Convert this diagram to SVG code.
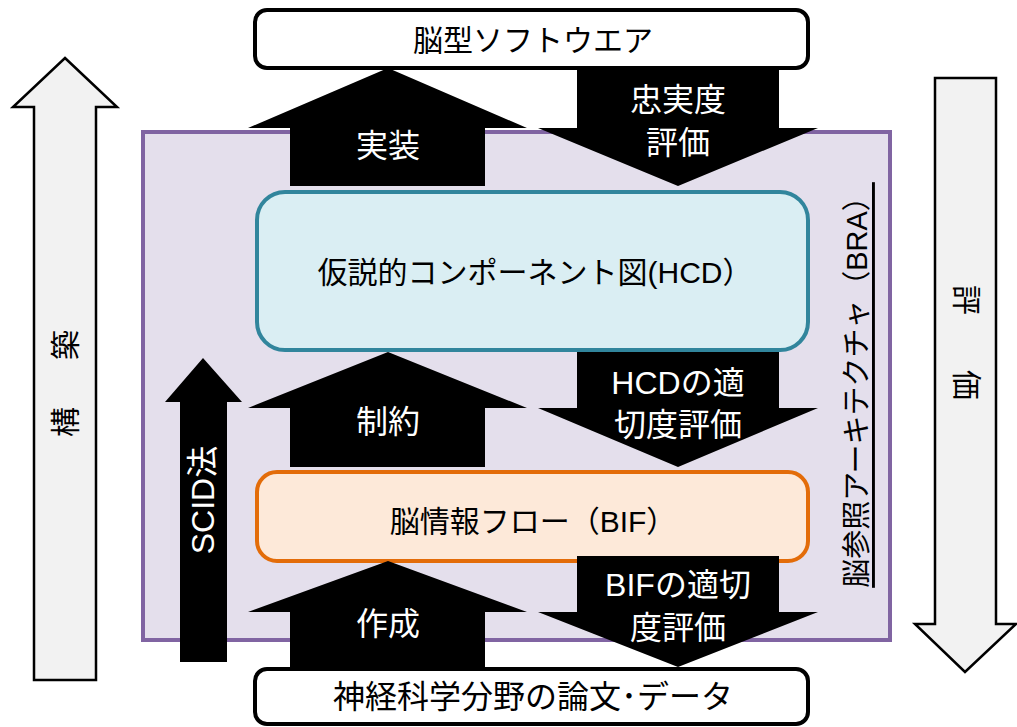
<svg xmlns="http://www.w3.org/2000/svg" width="1017" height="727" viewBox="0 0 1017 727">
<style>
text{font-family:"Liberation Sans","Noto Sans CJK JP",sans-serif;text-anchor:middle;dominant-baseline:central}
.box{fill:#fff;stroke:#000;stroke-width:4}
.blk{fill:#000;stroke:none}
.wt{fill:#fff;font-size:32px}
.bt{fill:#000}
.out{fill:#f2f2f2;stroke:#000;stroke-width:2.5;stroke-linejoin:miter}
</style>
<rect x="0" y="0" width="1017" height="727" fill="#fff"/>
<g id="bra">
<rect x="143" y="132" width="747" height="508" fill="#e4dfec" stroke="#8064a2" stroke-width="4"/>
<text class="bt" transform="translate(857,385) rotate(-90)" font-size="29" text-decoration="underline">脳参照アーキテクチャ（BRA）</text>
</g>
<g id="build">
<polygon class="out" points="65,58 117,107 96,107 96,680 34,680 34,107 13,107"/>
<text class="bt" transform="translate(65,345) rotate(-90)" font-size="30">築</text>
<text class="bt" transform="translate(65,422) rotate(-90)" font-size="30">構</text>
</g>
<g id="eval">
<polygon class="out" points="935,78 996,78 996,624 1016,624 965,672 915,624 935,624"/>
<text class="bt" transform="translate(966,300) rotate(90)" font-size="30">評</text>
<text class="bt" transform="translate(966,385) rotate(90)" font-size="30">価</text>
</g>
<g id="software">
<rect class="box" x="255" y="10" width="553" height="58" rx="12"/>
<text class="bt" x="533" y="40" font-size="30">脳型ソフトウエア</text>
</g>
<g id="hcd">
<rect x="257" y="192" width="551" height="158" rx="28" fill="#daeef3" stroke="#31859c" stroke-width="4"/>
<text class="bt" x="535" y="272" font-size="30">仮説的コンポーネント図(HCD）</text>
</g>
<g id="bif">
<rect x="257" y="472" width="551" height="89" rx="20" fill="#fde9d9" stroke="#e36c09" stroke-width="4"/>
<text class="bt" x="533" y="521" font-size="30">脳情報フロー（BIF）</text>
</g>
<g id="papers">
<rect class="box" x="255" y="669" width="553" height="55" rx="12"/>
<text class="bt" x="533" y="697" font-size="32">神経科学分野の論文･データ</text>
</g>
<g id="connectors">
<polygon class="blk" points="388,68 527,128 485,128 485,186 290,186 290,128 248,128"/>
<text class="wt" x="388" y="146">実装</text>
<polygon class="blk" points="577,68 779,68 779,128 818,128 678,186 538,128 577,128"/>
<text class="wt" x="678" y="100">忠実度</text>
<text class="wt" x="678" y="143">評価</text>
<polygon class="blk" points="388,352 527,408 485,408 485,467 290,467 290,408 248,408"/>
<text class="wt" x="388" y="422">制約</text>
<polygon class="blk" points="577,352 779,352 779,408 818,408 678,467 538,408 577,408"/>
<text class="wt" x="678" y="383">HCDの適</text>
<text class="wt" x="678" y="425">切度評価</text>
<polygon class="blk" points="388,561 527,612 485,612 485,669 290,669 290,612 248,612"/>
<text class="wt" x="388" y="624">作成</text>
<polygon class="blk" points="577,556 779,556 779,612 818,612 678,667 538,612 577,612"/>
<text class="wt" x="678" y="585">BIFの適切</text>
<text class="wt" x="678" y="628">度評価</text>
<polygon class="blk" points="203,358 242,402 227,402 227,662 180,662 180,402 165,402"/>
<text class="wt" transform="translate(203,500) rotate(-90)" font-size="26">SCID法</text>
</g>
</svg>
